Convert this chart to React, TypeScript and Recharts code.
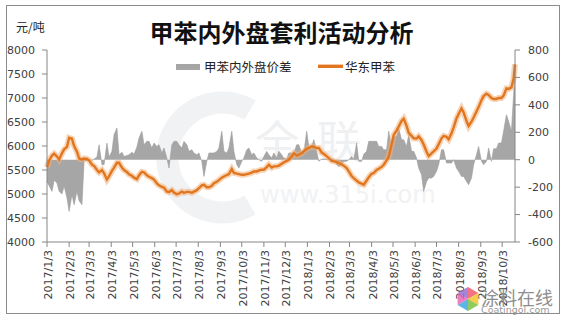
import React from "react";
import { ComposedChart, Area, Line, XAxis, YAxis } from "recharts";

// ---------- data ----------
const xTickLabels = [
  "2017/1/3", "2017/2/3", "2017/3/3", "2017/4/3", "2017/5/3", "2017/6/3",
  "2017/7/3", "2017/8/3", "2017/9/3", "2017/10/3", "2017/11/3", "2017/12/3",
  "2018/1/3", "2018/2/3", "2018/3/3", "2018/4/3", "2018/5/3", "2018/6/3",
  "2018/7/3", "2018/8/3", "2018/9/3", "2018/10/3",
];
const leftTicks = [4000, 4500, 5000, 5500, 6000, 6500, 7000, 7500, 8000];
const rightTicks = [-600, -400, -200, 0, 200, 400, 600, 800];

// 华东甲苯 (元/吨), sampled Tue/Fri from 2017/1/3
const priceEastChina = [
  5560, 5700, 5800, 5840, 5780, 5720, 5850, 5930, 5980, 6170,
  6150, 6000, 5880, 5740, 5720, 5740, 5730, 5700, 5610, 5585,
  5500, 5450, 5500, 5430, 5300, 5370, 5480, 5550, 5650, 5650,
  5550, 5500, 5460, 5410, 5380, 5340, 5310, 5390, 5460, 5450,
  5390, 5360, 5330, 5300, 5220, 5180, 5150, 5130, 5050, 5040,
  5080, 5030, 4995, 5010, 5050, 5025, 5045, 5045, 5025, 5050,
  5080, 5120, 5180, 5190, 5140, 5140, 5170, 5225, 5255, 5290,
  5340, 5365, 5395, 5415, 5520, 5440, 5425, 5415, 5400, 5400,
  5415, 5425, 5445, 5470, 5470, 5490, 5506, 5506, 5560, 5610,
  5550, 5575, 5576, 5590, 5630, 5660, 5690, 5715, 5780, 5850,
  5800, 5820, 5850, 5890, 5940, 5960, 5995, 5980, 5958, 5958,
  5865, 5835, 5790, 5750, 5690, 5680, 5665, 5645, 5615, 5590,
  5540, 5470, 5375, 5330, 5280, 5240, 5215, 5195, 5280, 5350,
  5420, 5437, 5500, 5525, 5565, 5610, 5700, 5780, 6030, 6230,
  6320, 6405, 6520, 6570, 6420, 6275, 6210, 6160, 6155, 6200,
  6120, 6030, 5880, 5790, 5845, 5890, 5945, 6035, 6160, 6210,
  6190, 6140, 6265, 6390, 6575, 6665, 6785, 6700, 6520, 6415,
  6505, 6595, 6720, 6810, 6955, 7040, 7090, 7065, 7000, 6980,
  6980, 7000, 7000, 7050, 7200, 7190, 7220, 7400,
  7700,
];

// 甲苯内外盘价差 (元/吨)
const spreadInOut = [
  -158, -190, -231, -150, -170, -230, -250, -190, -280, -377,
  -255, -328, -230, -300, -328, -10, -5, 0, -5, 5,
  20, 109, -36, -36, 121, 20, 61, 182, 231, 36,
  55, 24, 30, 36, 55, 40, 92, 158, 207, 109,
  134, 134, 85, 122, 97, 109, 49, 85, 12, -61,
  109, 134, 134, 109, 85, 134, 109, 61, 73, 49,
  36, 49, -12, -122, -12, 49, 49, 49, 60, 85,
  207, 61, 49, 85, 207, 61, -36, -61, -12, 12,
  73, 85, 36, 49, 12, 0, -12, 24, 61, 36,
  12, 49, 12, 61, 36, 10, 5, 49, 49, 49,
  109, 109, 49, 49, 207, 97, 97, 146, 61, -12,
  5, 5, 5, 5, 5, 5, -36, -50, -36, -12,
  -12, 0, 24, 0, 122, -12, -12, 40, 61, 134,
  134, 134, 134, 97, 97, 73, 73, 207, 85, 170,
  170, 231, 146, 146, 97, 182, 61, 61, 12, -61,
  -109, -231, -160, -134, -134, -122, -85, -36, 73, 73,
  -24, -24, -24, 0, -61, -85, -122, -122, -158, -182,
  -134, -36, 36, 97, -12, -36, -12, 85, -12, 80,
  80, 122, 122, 207, 328, 280, 207, 474,
  656,
];

// ---------- helpers ----------
const BASE = Date.UTC(2017, 0, 3);
const dayOf = (s: string) => {
  const [y, m, d] = s.split("/").map(Number);
  return Math.round((Date.UTC(y, m - 1, d) - BASE) / 86400000);
};
const fmtDay = (day: number) => {
  const dt = new Date(BASE + day * 86400000);
  return `${dt.getUTCFullYear()}/${dt.getUTCMonth() + 1}/${dt.getUTCDate()}`;
};

// sample dates: every Tuesday and Friday, plus the last trading day
const sampleDays: number[] = [];
for (let k = 0; k < 94; k++) sampleDays.push(7 * k, 7 * k + 3);
sampleDays.push(656);
const dates = sampleDays.map(fmtDay);

const data = dates.map((d, i) => ({
  date: d,
  t: dayOf(d),
  price: priceEastChina[i],
  spread: spreadInOut[i],
}));

const xTicks = xTickLabels.map(dayOf);
const labelByDay: Record<number, string> = {};
xTickLabels.forEach((l) => (labelByDay[dayOf(l)] = l));

const AXIS = "#868686";
const TXT = "#404040";
const FONT = "'DejaVu Sans', Verdana, sans-serif";
const CJK = "'Noto Sans CJK SC', sans-serif";
const ORANGE = "#E2761E";

const XTick = (props: any) => {
  const { x, y, payload } = props;
  const px = x + 1;
  return (
    <text
      x={px}
      y={y}
      transform={`rotate(-90 ${px} ${y})`}
      textAnchor="end"
      dy="0.36em"
      fontSize={11}
      fontFamily={FONT}
      fill={TXT}
    >
      {labelByDay[payload.value] ?? ""}
    </text>
  );
};

const Pinwheel = () => {
  const colors = ["#F05A6E", "#F7C22C", "#7CC242", "#3FA9E0", "#E667B8", "#9B6FD0"];
  const cx = 13, cy = 13, r = 12;
  const petals = colors.map((c, i) => {
    const a0 = (i * 60 - 90) * (Math.PI / 180);
    const a1 = ((i + 1) * 60 - 90) * (Math.PI / 180);
    const p = `M${cx},${cy} L${cx + r * Math.cos(a0)},${cy + r * Math.sin(a0)} L${cx + r * Math.cos(a1)},${cy + r * Math.sin(a1)} Z`;
    return <path key={i} d={p} fill={c} opacity={0.85} />;
  });
  return (
    <svg width={26} height={26} style={{ position: "absolute", left: 455, top: 286 }}>
      {petals}
    </svg>
  );
};

export default function App() {
  return (
    <div
      style={{
        position: "absolute",
        left: 0,
        top: 0,
        width: 565,
        height: 329,
        background: "#fff",
        overflow: "hidden",
      }}
    >
      {/* faint watermarks */}
      <svg width={565} height={329} style={{ position: "absolute", left: 0, top: 0 }}>
        <path
          d="M 250 110 A 55 55 0 1 0 250 205"
          fill="none"
          stroke="#F0F2F4"
          strokeWidth={22}
        />
        <text x={255} y={158} fontSize={44} fontFamily={CJK} fill="#EEF0F2" letterSpacing={18}>
          全联
        </text>
        <text x={260} y={203} fontSize={24} fontFamily={FONT} fill="#F0F2F4">
          www.315i.com
        </text>
      </svg>

      <div style={{ position: "absolute", left: 0, top: 0 }}>
        <ComposedChart
          width={565}
          height={329}
          data={data}
          margin={{ top: 50, right: 0, bottom: 0, left: 0 }}
        >
          <XAxis
            dataKey="t"
            type="number"
            domain={[0, 656]}
            ticks={xTicks}
            interval={0}
            tick={<XTick />}
            tickSize={5}
            tickMargin={3}
            height={87}
            axisLine={{ stroke: AXIS }}
            tickLine={{ stroke: AXIS }}
          />
          <YAxis
            yAxisId="left"
            orientation="left"
            domain={[4000, 8000]}
            ticks={leftTicks}
            interval={0}
            width={47}
            tickSize={5}
            tickMargin={7}
            axisLine={{ stroke: AXIS }}
            tickLine={{ stroke: AXIS }}
            tick={{ fontSize: 11, fontFamily: FONT, fill: TXT }}
          />
          <YAxis
            yAxisId="right"
            orientation="right"
            domain={[-600, 800]}
            ticks={rightTicks}
            interval={0}
            width={50}
            tickSize={5}
            tickMargin={8}
            axisLine={{ stroke: AXIS }}
            tickLine={{ stroke: AXIS }}
            tick={{ fontSize: 11, fontFamily: FONT, fill: TXT, textAnchor: "start" }}
          />
          <Area
            yAxisId="right"
            dataKey="spread"
            type="linear"
            baseValue={0}
            fill="#A6A6A6"
            fillOpacity={1}
            stroke="#9C9C9C"
            strokeWidth={0.6}
            isAnimationActive={false}
            dot={false}
            activeDot={false}
          />
          <Line
            yAxisId="left"
            dataKey="price"
            type="linear"
            stroke="#F3B07A"
            strokeOpacity={0.55}
            strokeWidth={6}
            dot={false}
            activeDot={false}
            legendType="none"
            isAnimationActive={false}
          />
          <Line
            yAxisId="left"
            dataKey="price"
            type="linear"
            stroke={ORANGE}
            strokeWidth={2.4}
            dot={false}
            activeDot={false}
            isAnimationActive={false}
          />
        </ComposedChart>
      </div>

      {/* frame */}
      <div
        style={{
          position: "absolute",
          left: 6,
          top: 5,
          width: 554,
          height: 309,
          border: "1px solid #8C8C8C",
          boxSizing: "border-box",
          pointerEvents: "none",
        }}
      />

      {/* title & unit */}
      <div
        style={{
          position: "absolute",
          left: 0,
          width: 565,
          textAlign: "center",
          top: 19,
          paddingLeft: 0,
          fontFamily: CJK,
          fontSize: 24,
          fontWeight: 700,
          lineHeight: "26px",
          color: "#111",
        }}
      >
        <span style={{ position: "relative", left: -1 }}>甲苯内外盘套利活动分析</span>
      </div>
      <div
        style={{
          position: "absolute",
          left: 16,
          top: 20,
          fontFamily: CJK,
          fontSize: 12,
          lineHeight: "14px",
          color: "#222",
        }}
      >
        元/吨
      </div>

      {/* legend */}
      <div style={{ position: "absolute", left: 176, top: 63.5, width: 24, height: 6, background: "#A6A6A6" }} />
      <div
        style={{
          position: "absolute",
          left: 204,
          top: 59,
          fontFamily: CJK,
          fontSize: 12.5,
          lineHeight: "15px",
          color: "#222",
          whiteSpace: "nowrap",
        }}
      >
        甲苯内外盘价差
      </div>
      <div style={{ position: "absolute", left: 318, top: 64, width: 25, height: 4, background: "#F3B07A", opacity: 0.7 }} />
      <div style={{ position: "absolute", left: 318, top: 65, width: 25, height: 2.5, background: ORANGE }} />
      <div
        style={{
          position: "absolute",
          left: 345,
          top: 59,
          fontFamily: CJK,
          fontSize: 12.5,
          lineHeight: "15px",
          color: "#222",
          whiteSpace: "nowrap",
        }}
      >
        华东甲苯
      </div>

      {/* corner watermark */}
      <Pinwheel />
      <div
        style={{
          position: "absolute",
          left: 481,
          top: 287,
          fontFamily: CJK,
          fontSize: 18,
          lineHeight: "20px",
          color: "#8E8E8E",
          whiteSpace: "nowrap",
          letterSpacing: 0,
        }}
      >
        涂料在线
      </div>
      <div
        style={{
          position: "absolute",
          left: 481,
          top: 305,
          fontFamily: FONT,
          fontSize: 9.5,
          lineHeight: "10px",
          color: "#9A9A9A",
          whiteSpace: "nowrap",
        }}
      >
        Coatingol.com
      </div>
    </div>
  );
}
